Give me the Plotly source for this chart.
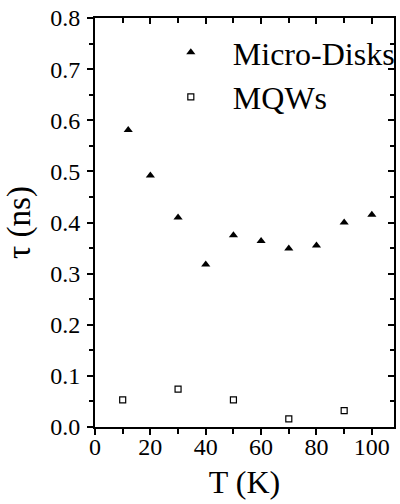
import plotly.graph_objects as go

# Data
T_disks = [12, 20, 30, 40, 50, 60, 70, 80, 90, 100]
tau_disks = [0.581, 0.492, 0.410, 0.318, 0.375, 0.364, 0.349, 0.355, 0.400, 0.415]

T_mqw = [10, 30, 50, 70, 90]
tau_mqw = [0.053, 0.074, 0.053, 0.016, 0.032]

x_range = [0, 108]
y_range = [0, 0.8]

FONT = "Liberation Serif, Times New Roman, serif"

fig = go.Figure()
fig.add_trace(go.Scatter(
    x=T_disks, y=tau_disks, mode="markers", name="Micro-Disks",
    marker=dict(symbol="triangle-up", size=8, color="black", line=dict(width=0)),
))
fig.add_trace(go.Scatter(
    x=T_mqw, y=tau_mqw, mode="markers", name="MQWs",
    marker=dict(symbol="square-open", size=6, color="black", line=dict(width=1.2, color="black")),
))
# invisible helper traces so the top / right frame axes get their own subplots
fig.add_trace(go.Scatter(x=T_mqw, y=tau_mqw, xaxis="x2", yaxis="y", mode="markers",
                         marker=dict(opacity=0), showlegend=False, hoverinfo="skip"))
fig.add_trace(go.Scatter(x=T_mqw, y=tau_mqw, xaxis="x", yaxis="y2", mode="markers",
                         marker=dict(opacity=0), showlegend=False, hoverinfo="skip"))

common = dict(showgrid=False, zeroline=False, showline=True, linewidth=2, linecolor="black",
              tickcolor="black", tickwidth=1.5, ticklabeloverflow="allow")

fig.update_layout(
    width=400, height=504,
    margin=dict(l=95, r=6, t=18, b=77, autoexpand=False),
    paper_bgcolor="white", plot_bgcolor="white",
    font=dict(family=FONT, color="black"),
    xaxis=dict(range=x_range, tick0=0, dtick=20, ticks="outside", ticklen=6,
               minor=dict(dtick=10, ticks="outside", ticklen=5, tickcolor="black", tickwidth=1.5),
               tickfont=dict(size=24, family=FONT), ticklabelstandoff=-9,
               title=dict(text="T (K)", font=dict(size=32, family=FONT), standoff=12),
               **common),
    yaxis=dict(range=y_range, tick0=0, dtick=0.1, tickformat=".1f", ticks="outside", ticklen=6,
               minor=dict(dtick=0.05, ticks="outside", ticklen=4, tickcolor="black", tickwidth=1.5),
               tickfont=dict(size=24, family=FONT), ticklabelstandoff=2,
               title=dict(text="τ (ns)", font=dict(size=33, family=FONT), standoff=10),
               **common),
    xaxis2=dict(range=x_range, overlaying="x", side="top", anchor="y", tick0=0, dtick=20,
                ticks="inside", ticklen=6, showticklabels=False,
                minor=dict(dtick=10, ticks="inside", ticklen=5, tickcolor="black", tickwidth=1.5),
                **common),
    yaxis2=dict(range=y_range, overlaying="y", side="right", anchor="x", tick0=0, dtick=0.1,
                ticks="inside", ticklen=6, showticklabels=False,
                minor=dict(dtick=0.05, ticks="inside", ticklen=4, tickcolor="black", tickwidth=1.5),
                **common),
    legend=dict(x=0.18, y=0.983, xanchor="left", yanchor="top",
                font=dict(size=32, family=FONT), bgcolor="rgba(0,0,0,0)",
                itemwidth=74, tracegroupgap=0),
)

# remove the page's default 8px body margin so the figure sits at the window origin
fig.write_html("out.html", config={"displayModeBar": False},
               post_script="document.body.style.margin='0';")
